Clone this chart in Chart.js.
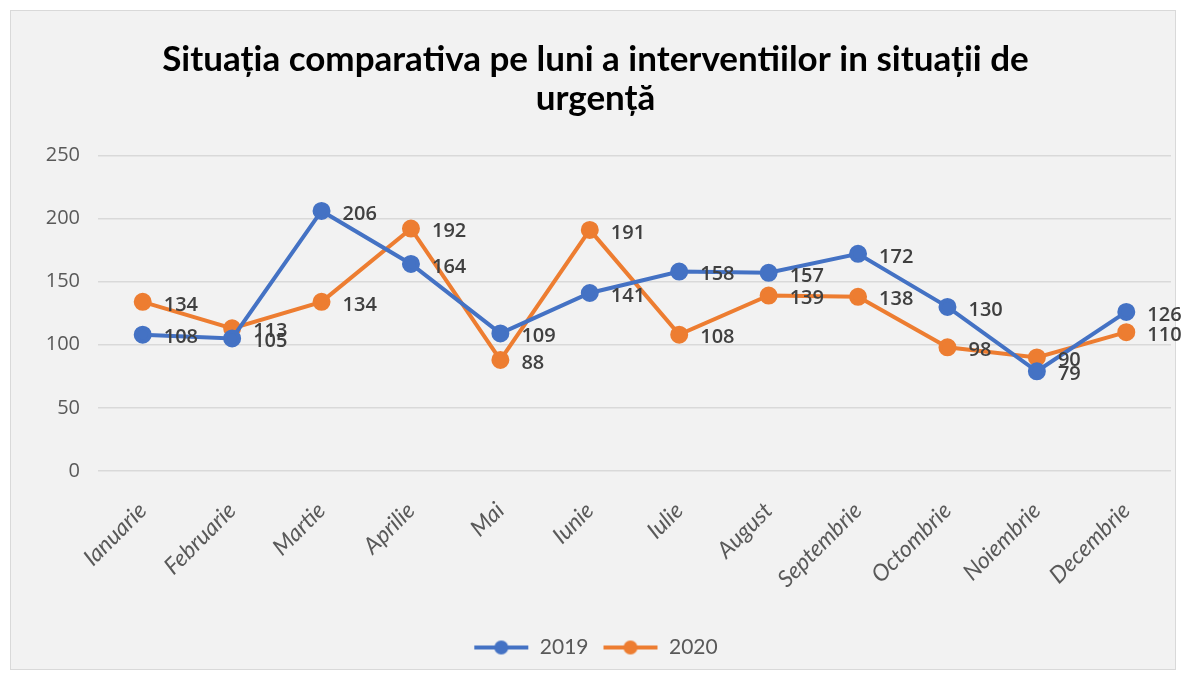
<!DOCTYPE html>
<html>
<head>
<meta charset="utf-8">
<script src="https://cdn.jsdelivr.net/npm/chart.js@4"></script>
<style>
  html, body { margin: 0; padding: 0; background: #ffffff; }
  #wrap { width: 1187px; height: 677px; }
</style>
</head>
<body>
<div id="wrap"><canvas id="chart" width="1187" height="677"></canvas></div>
<script>
const months = ['Ianuarie', 'Februarie', 'Martie', 'Aprilie', 'Mai', 'Iunie', 'Iulie', 'August', 'Septembrie', 'Octombrie', 'Noiembrie', 'Decembrie'];
const values2019 = [108, 105, 206, 164, 109, 141, 158, 157, 172, 130, 79, 126];
const values2020 = [134, 113, 134, 192, 88, 191, 108, 139, 138, 98, 90, 110];
const yTicks = [0, 50, 100, 150, 200, 250];

const blue = '#4472c4';
const orange = '#ed7d31';

// small line+dot icon for the legend, like the spreadsheet one
function legendIcon(color) {
    const c = document.createElement('canvas');
    c.width = 56; c.height = 16;
    const ctx = c.getContext('2d');
    ctx.strokeStyle = color;
    ctx.lineWidth = 4;
    ctx.beginPath();
    ctx.moveTo(1, 8);
    ctx.lineTo(55, 8);
    ctx.stroke();
    ctx.fillStyle = color;
    ctx.beginPath();
    ctx.arc(28, 8, 7, 0, Math.PI * 2);
    ctx.fill();
    return c;
}

const panelBackground = {
    id: 'panelBackground',
    beforeDraw(chart) {
        const ctx = chart.ctx;
        ctx.save();
        ctx.fillStyle = '#ffffff';
        ctx.fillRect(0, 0, chart.width, chart.height);
        ctx.fillStyle = '#f2f2f2';
        ctx.fillRect(10, 10, 1166, 660);
        ctx.strokeStyle = '#d9d9d9';
        ctx.lineWidth = 1;
        ctx.strokeRect(10.5, 10.5, 1165, 659);
        ctx.restore();
    }
};

const valueLabels = {
    id: 'valueLabels',
    afterDatasetsDraw(chart) {
        const ctx = chart.ctx;
        ctx.save();
        ctx.font = '600 20px "Open Sans", sans-serif';
        ctx.fillStyle = '#404040';
        ctx.textAlign = 'left';
        ctx.textBaseline = 'middle';
        chart.data.datasets.forEach((ds, i) => {
            chart.getDatasetMeta(i).data.forEach((pt, j) => {
                ctx.fillText(String(ds.data[j]), pt.x + 21, pt.y + 3);
            });
        });
        ctx.restore();
    }
};

new Chart(document.getElementById('chart'), {
    type: 'line',
    data: {
        labels: months,
        datasets: [
            { label: '2019', data: values2019, borderColor: blue, backgroundColor: blue, borderWidth: 4, pointRadius: 7, pointHoverRadius: 7, tension: 0, pointStyle: 'circle' },
            { label: '2020', data: values2020, borderColor: orange, backgroundColor: orange, borderWidth: 4, pointRadius: 7, pointHoverRadius: 7, tension: 0, pointStyle: 'circle' }
        ]
    },
    options: {
        responsive: false,
        animation: false,
        layout: { padding: { left: 20, right: 16, top: 14, bottom: 9 } },
        plugins: {
            title: {
                display: true,
                text: ['Situația comparativa pe luni a interventiilor in situații de', 'urgență'],
                color: '#000000',
                font: { family: 'Lato', size: 35, weight: 'bold', lineHeight: 1.12 },
                padding: { top: 26, bottom: 37 }
            },
            legend: {
                position: 'bottom',
                labels: {
                    usePointStyle: true,
                    pointStyleWidth: 56,
                    boxHeight: 16,
                    generateLabels(chart) {
                        return chart.data.datasets.map((ds, i) => ({
                            text: ds.label,
                            pointStyle: legendIcon(ds.borderColor),
                            fillStyle: ds.borderColor,
                            strokeStyle: ds.borderColor,
                            lineWidth: 0,
                            datasetIndex: i,
                            fontColor: '#595959'
                        }));
                    },
                    color: '#595959',
                    font: { family: 'Lato', size: 21 },
                    padding: 14
                }
            },
            tooltip: { enabled: false }
        },
        scales: {
            x: {
                offset: true,
                grid: { display: false, drawTicks: false },
                border: { display: false },
                ticks: {
                    color: '#595959',
                    font: { family: 'Lato', size: 23, style: 'italic' },
                    minRotation: 45,
                    maxRotation: 45,
                    padding: 26
                },
                afterFit(scale) { scale.height = 152; }
            },
            y: {
                min: 0,
                max: 250,
                afterBuildTicks(scale) { scale.ticks = yTicks.map(v => ({ value: v })); },
                grid: { color: '#d9d9d9', lineWidth: 1.5, drawTicks: false },
                border: { display: false },
                ticks: {
                    color: '#595959',
                    font: { family: 'Open Sans', size: 20 },
                    padding: 18
                },
                afterFit(scale) { scale.width = 78; }
            }
        }
    },
    plugins: [panelBackground, valueLabels]
});
</script>
</body>
</html>
